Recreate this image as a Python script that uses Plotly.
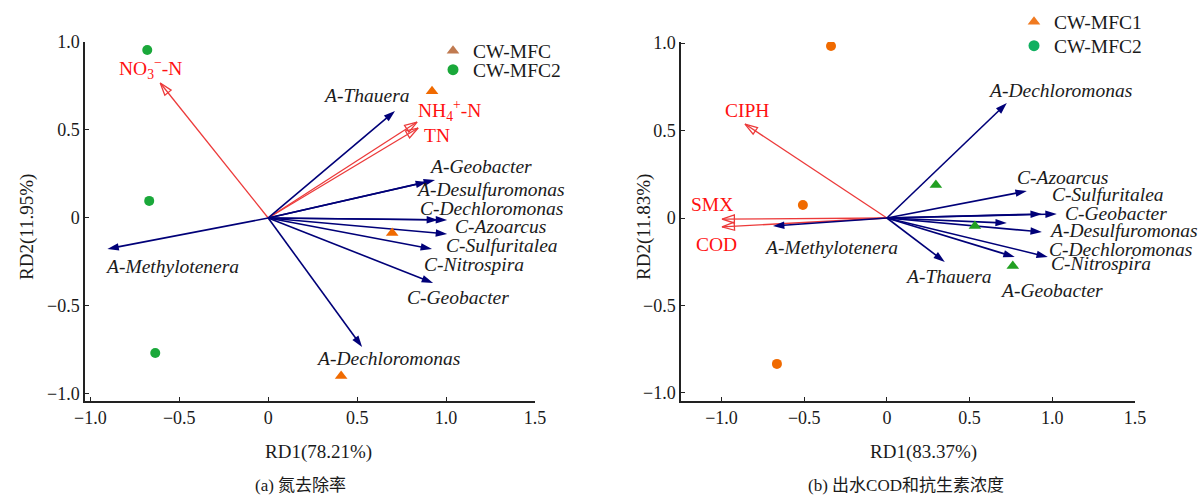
import plotly.graph_objects as go

# ---------------- data : (a) nitrogen removal ----------------
a_species = ["A-Thauera", "A-Geobacter", "A-Desulfuromonas", "C-Dechloromonas",
             "C-Azoarcus", "C-Sulfuritalea", "C-Nitrospira", "C-Geobacter",
             "A-Dechloromonas", "A-Methylotenera"]
a_species_rd1 = [0.713, 0.938, 0.893, 1.006, 0.955, 1.006, 0.921, 0.927, 0.528, -0.904]
a_species_rd2 = [0.608, 0.216, 0.205, -0.011, -0.011, -0.091, -0.176, -0.369, -0.733, -0.176]
a_env = ["NO<sub>3</sub><sup>−</sup>-N", "NH<sub>4</sub><sup>+</sup>-N", "TN"]
a_env_rd1 = [-0.607, 0.837, 0.843]
a_env_rd2 = [0.767, 0.545, 0.511]
a_mfc_rd1 = [0.921, 0.697, 0.410]
a_mfc_rd2 = [0.720, -0.085, -0.898]
a_mfc2_rd1 = [-0.680, -0.669, -0.635]
a_mfc2_rd2 = [0.955, 0.097, -0.767]

# ---------------- data : (b) effluent COD and antibiotics ----------------
b_species = ["A-Dechloromonas", "C-Azoarcus", "C-Sulfuritalea", "C-Geobacter",
             "A-Desulfuromonas", "C-Dechloromonas", "C-Nitrospira", "A-Geobacter",
             "A-Thauera", "A-Methylotenera"]
b_species_rd1 = [0.725, 0.846, 0.937, 1.027, 0.937, 0.725, 0.973, 0.773, 0.350, -0.689]
b_species_rd2 = [0.657, 0.154, 0.023, 0.023, -0.080, -0.029, -0.223, -0.223, -0.251, -0.046]
b_env = ["CIPH", "SMX", "COD"]
b_env_rd1 = [-0.858, -0.997, -0.997]
b_env_rd2 = [0.537, -0.006, -0.051]
b_mfc1_rd1 = [-0.338, -0.508, -0.665]
b_mfc1_rd2 = [0.983, 0.074, -0.834]
b_mfc2_rd1 = [0.296, 0.532, 0.761]
b_mfc2_rd2 = [0.189, -0.046, -0.274]

# ticks
x_tickvals = [-1.0, -0.5, 0, 0.5, 1.0, 1.5]
x_ticktext = ["−1.0", "−0.5", "0", "0.5", "1.0", "1.5"]
y_tickvals = [-1.0, -0.5, 0, 0.5, 1.0]
y_ticktext = ["−1.0", "−0.5", "0", "0.5", "1.0"]

# ---------------- label placement (pixel shifts from arrow tips) ----------------
a_species_shift = [(-29, 15), (45, 13), (63, -8), (44, 11), (62, -7), (55, -12),
                   (42, -16), (25, -15), (26, -12), (65, -18)]
a_env_shift = [(-10, 15), (32, 12), (19, -7)]
b_species_shift = [(53, 13), (36, 14), (66, 19), (59, 0), (82, 2), (114, -26),
                   (53, -6), (37, -33), (4, -15), (58, -21)]
b_env_shift = [(2, 14), (-10, 15), (-6, -18)]

# ---------------- styles ----------------
SERIF = "Liberation Serif, Times New Roman, Noto Sans CJK SC, serif"
NAVY = "#000078"
RED_LINE = "#ec3a3a"
RED_TEXT = "#ff1010"
ORANGE = "#f06a00"
GREEN_C = "#1aa83a"
GREEN_T = "#22a022"
TXT = "#1a1a1a"

fig = go.Figure()


def arrow(x1, y1, color, xa, ya, filled):
    fig.add_trace(go.Scatter(
        x=[0, x1], y=[0, y1], xaxis=xa, yaxis=ya, mode="lines+markers",
        line=dict(color=color, width=1.6 if filled else 1.3),
        marker=dict(symbol=["circle", "arrow" if filled else "arrow-open"],
                    size=[0, 12 if filled else 13], angleref="previous", opacity=1,
                    color=color, line=dict(width=0 if filled else 1.3, color=color)),
        showlegend=False, hoverinfo="skip"))


def label(x, y, text, shift, xr, yr, color, italic):
    fig.add_annotation(x=x, y=y, xref=xr, yref=yr, text=f"<i>{text}</i>" if italic else text,
                       showarrow=False, xshift=shift[0], yshift=shift[1],
                       xanchor="center", yanchor="middle",
                       font=dict(family=SERIF, size=19.5, color=color))


# panel (a)
for i, n in enumerate(a_env):
    arrow(a_env_rd1[i], a_env_rd2[i], RED_LINE, "x", "y", False)
    label(a_env_rd1[i], a_env_rd2[i], n, a_env_shift[i], "x", "y", RED_TEXT, False)
for i, n in enumerate(a_species):
    arrow(a_species_rd1[i], a_species_rd2[i], NAVY, "x", "y", True)
    label(a_species_rd1[i], a_species_rd2[i], n, a_species_shift[i], "x", "y", TXT, True)
fig.add_trace(go.Scatter(x=a_mfc2_rd1, y=a_mfc2_rd2, xaxis="x", yaxis="y", mode="markers",
                         marker=dict(symbol="circle", size=10, color=GREEN_C), showlegend=False))
fig.add_trace(go.Scatter(x=a_mfc_rd1, y=a_mfc_rd2, xaxis="x", yaxis="y", mode="markers",
                         marker=dict(symbol="triangle-up", size=11, color=ORANGE), showlegend=False))

# panel (b)
for i, n in enumerate(b_env):
    arrow(b_env_rd1[i], b_env_rd2[i], RED_LINE, "x2", "y2", False)
    label(b_env_rd1[i], b_env_rd2[i], n, b_env_shift[i], "x2", "y2", RED_TEXT, False)
for i, n in enumerate(b_species):
    arrow(b_species_rd1[i], b_species_rd2[i], NAVY, "x2", "y2", True)
    label(b_species_rd1[i], b_species_rd2[i], n, b_species_shift[i], "x2", "y2", TXT, True)
fig.add_trace(go.Scatter(x=b_mfc1_rd1, y=b_mfc1_rd2, xaxis="x2", yaxis="y2", mode="markers",
                         marker=dict(symbol="circle", size=10, color=ORANGE), showlegend=False))
fig.add_trace(go.Scatter(x=b_mfc2_rd1, y=b_mfc2_rd2, xaxis="x2", yaxis="y2", mode="markers",
                         marker=dict(symbol="triangle-up", size=11, color=GREEN_T), showlegend=False))

# legends (one entry per legend box)
leg_items = [("CW-MFC", "triangle-up", "#c07a50", "legend"),
             ("CW-MFC2", "circle", GREEN_C, "legend2"),
             ("CW-MFC1", "triangle-up", "#f07a20", "legend3"),
             ("CW-MFC2", "circle", "#10b060", "legend4")]
for name, sym, col, lg in leg_items:
    fig.add_trace(go.Scatter(x=[None], y=[None], xaxis="x", yaxis="y", mode="markers", name=name,
                             marker=dict(symbol=sym, size=11, color=col), legend=lg))

leg_common = dict(xanchor="left", yanchor="middle", bgcolor="rgba(0,0,0,0)",
                  font=dict(family=SERIF, size=19.5, color=TXT), borderwidth=0)

axis_common = dict(showgrid=False, zeroline=False, showline=True, linecolor="#222",
                   linewidth=1.5, ticks="inside", ticklen=4, tickcolor="#222",
                   tickfont=dict(family=SERIF, size=18, color=TXT), mirror=False)

fig.update_layout(
    width=1201, height=497, autosize=False,
    margin=dict(l=0, r=0, t=0, b=0, autoexpand=False),
    paper_bgcolor="white", plot_bgcolor="white",
    xaxis=dict(domain=[85 / 1201, 535 / 1201], range=[-1.03, 1.5], anchor="y",
               tickvals=x_tickvals, ticktext=x_ticktext, **axis_common),
    yaxis=dict(domain=[1 - 401 / 497, 1 - 42 / 497], range=[-1.04, 1.0], anchor="x",
               tickvals=y_tickvals, ticktext=y_ticktext, **axis_common),
    xaxis2=dict(domain=[681 / 1201, 1135 / 1201], range=[-1.245, 1.5], anchor="y2",
                tickvals=x_tickvals, ticktext=x_ticktext, **axis_common),
    yaxis2=dict(domain=[1 - 401 / 497, 1 - 42 / 497], range=[-1.046, 1.006], anchor="x2",
                tickvals=y_tickvals, ticktext=y_ticktext, **axis_common),
    legend=dict(x=433 / 1201, y=1 - 51 / 497, **leg_common),
    legend2=dict(x=433 / 1201, y=1 - 70 / 497, **leg_common),
    legend3=dict(x=1014 / 1201, y=1 - 22 / 497, **leg_common),
    legend4=dict(x=1014 / 1201, y=1 - 46 / 497, **leg_common),
)

# axis titles and captions
texts = [("RD1(78.21%)", 318, 452, 0), ("RD1(83.37%)", 923, 452, 0),
         ("RD2(11.95%)", 27, 227, -90), ("RD2(11.83%)", 644, 227, -90)]
for t, px, py, ang in texts:
    fig.add_annotation(x=px / 1201, y=1 - py / 497, xref="paper", yref="paper", text=t,
                       showarrow=False, textangle=ang, xanchor="center", yanchor="middle",
                       font=dict(family=SERIF, size=19, color=TXT))
captions = [("(a) 氮去除率", 300, 485), ("(b) 出水COD和抗生素浓度", 906, 485)]
for t, px, py in captions:
    fig.add_annotation(x=px / 1201, y=1 - py / 497, xref="paper", yref="paper", text=t,
                       showarrow=False, xanchor="center", yanchor="middle",
                       font=dict(family=SERIF, size=17, color=TXT))

fig.write_html("out.html")
